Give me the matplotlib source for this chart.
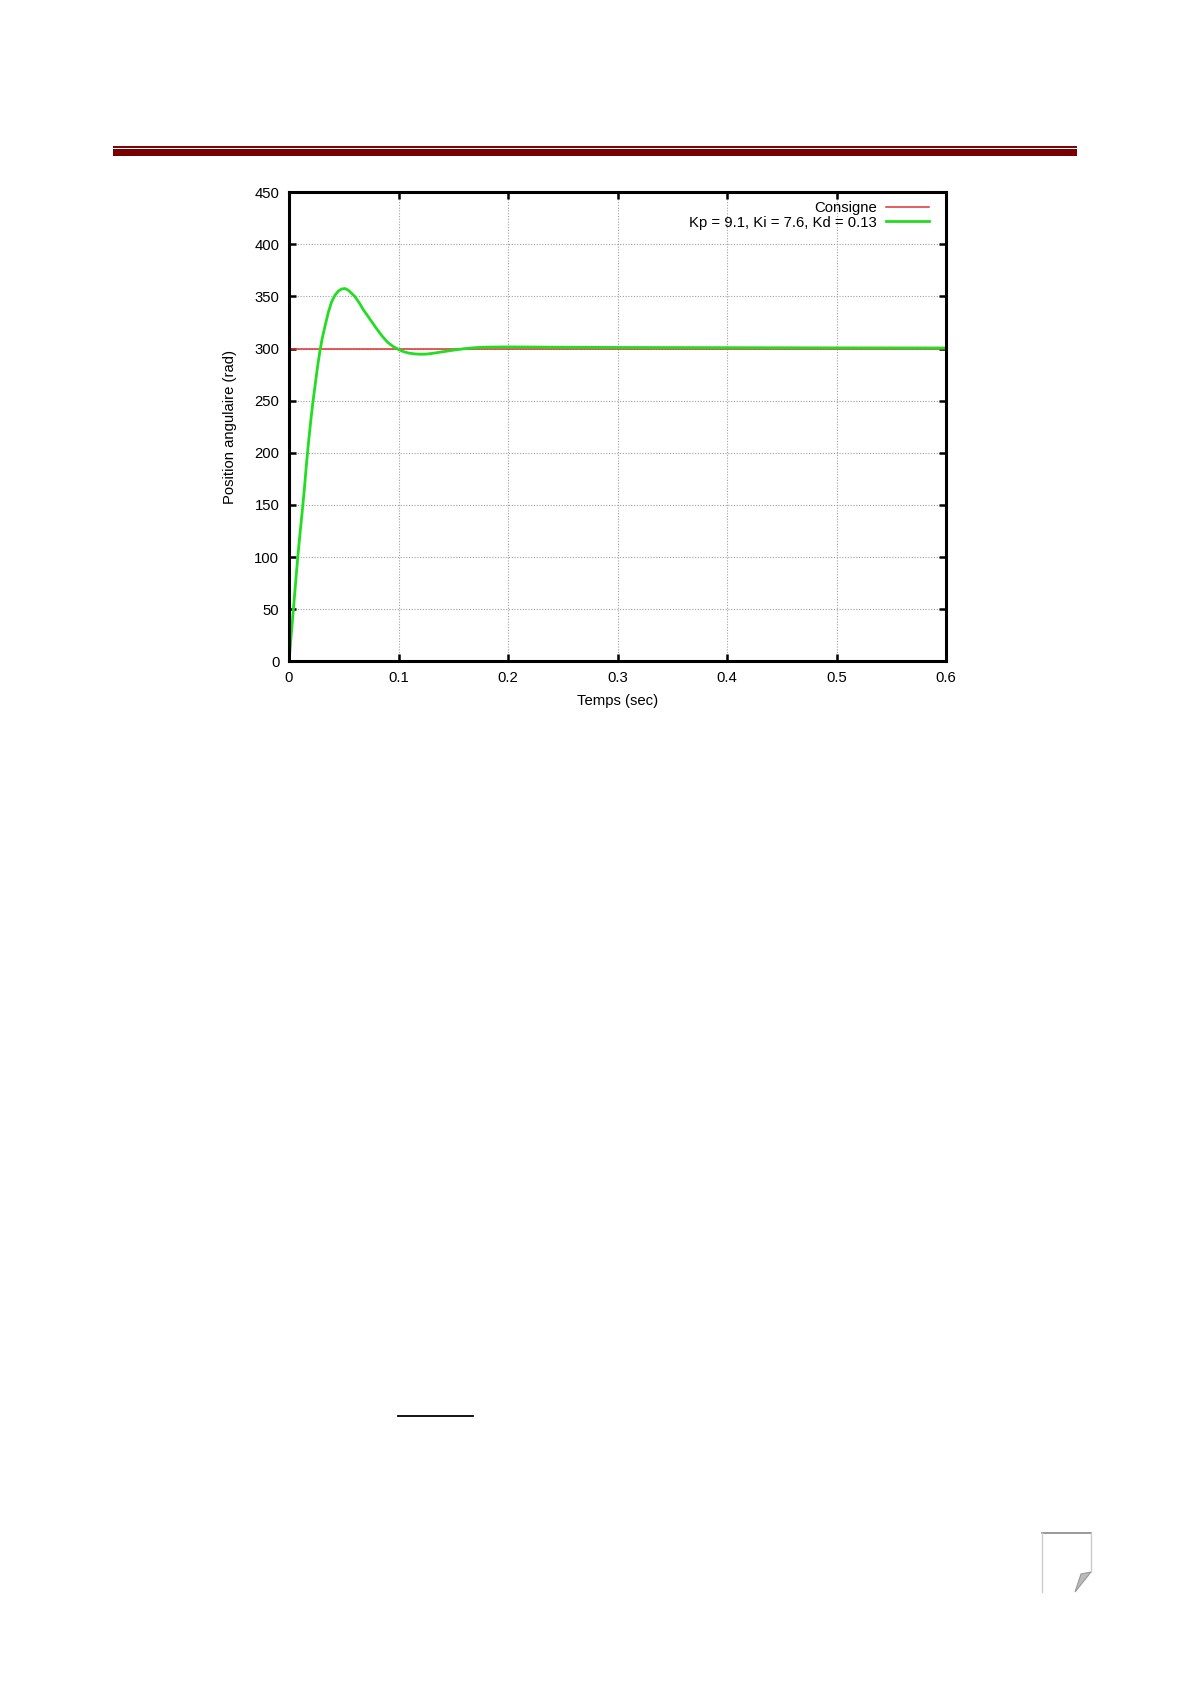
import matplotlib
matplotlib.use("Agg")
import matplotlib.pyplot as plt
from matplotlib.patches import Rectangle, Polygon
from matplotlib.lines import Line2D

plt.rcParams['font.family'] = ['Liberation Sans', 'DejaVu Sans']

# step response
temps = [0.000, 0.002, 0.004, 0.006, 0.008, 0.010, 0.012, 0.014, 0.016, 0.018,
         0.020, 0.022, 0.024, 0.026, 0.028, 0.030, 0.033, 0.036, 0.039, 0.042,
         0.045, 0.048, 0.051, 0.054, 0.057, 0.060, 0.064, 0.068, 0.072, 0.076,
         0.080, 0.085, 0.090, 0.095, 0.100, 0.105, 0.110, 0.115, 0.120, 0.125,
         0.130, 0.140, 0.150, 0.160, 0.170, 0.180, 0.200, 0.220, 0.250, 0.300,
         0.400, 0.500, 0.600]
position = [0, 25, 50, 75, 100, 122, 143, 165, 190, 212,
            232, 250, 266, 282, 296, 308, 322, 335, 345, 351,
            355, 357, 357.5, 356, 353, 350, 344, 337, 331, 325,
            319, 312, 306, 302, 299, 296.8, 295.5, 294.8, 294.5, 294.6,
            295.2, 296.8, 298.4, 299.8, 300.8, 301.3, 301.5, 301.4, 301.2, 301.0,
            300.8, 300.6, 300.5]
consigne_t = [0.0, 0.6]
consigne = [300, 300]

label_consigne = "Consigne"
label_pid = "Kp = 9.1, Ki = 7.6, Kd = 0.13"
xticks = [0, 0.1, 0.2, 0.3, 0.4, 0.5, 0.6]
xticklabels = ["0", "0.1", "0.2", "0.3", "0.4", "0.5", "0.6"]
yticks = list(range(0, 451, 50))

W, H = 1190, 1684
fig = plt.figure(figsize=(W / 100, H / 100), dpi=100)

# page decorations (header bar, short rule, page icon)
fig.add_artist(Rectangle((113 / W, 1 - 147.5 / H), (1077 - 113) / W, 1.6 / H,
                         transform=fig.transFigure, color="#7a0a0a", lw=0))
fig.add_artist(Rectangle((113 / W, 1 - 155.5 / H), (1077 - 113) / W, 6.5 / H,
                         transform=fig.transFigure, color="#780000", lw=0))
fig.add_artist(Line2D([398 / W, 473 / W], [1 - 1416 / H, 1 - 1416 / H],
                      transform=fig.transFigure, color="black", lw=1.3))
fig.add_artist(Line2D([1042 / W, 1091 / W], [1 - 1533 / H, 1 - 1533 / H],
                      transform=fig.transFigure, color="#888888", lw=1.2))
fig.add_artist(Line2D([1042 / W, 1042 / W], [1 - 1533 / H, 1 - 1592 / H],
                      transform=fig.transFigure, color="#cccccc", lw=1.0))
fig.add_artist(Line2D([1091 / W, 1091 / W], [1 - 1533 / H, 1 - 1572 / H],
                      transform=fig.transFigure, color="#cccccc", lw=1.0))
fig.add_artist(Polygon([(1075 / W, 1 - 1592 / H), (1091 / W, 1 - 1572 / H),
                        (1081 / W, 1 - 1574 / H)],
                       transform=fig.transFigure, closed=True,
                       facecolor="#bbbbbb", edgecolor="#999999", lw=0.8))

ax = fig.add_axes([289 / W, 1 - 661.5 / H, (946 - 289) / W, (661.5 - 192) / H])

ax.plot(consigne_t, consigne, color="#e03030", lw=1.1, label=label_consigne)
ax.plot(temps, position, color="#22dd22", lw=2.0, label=label_pid)

ax.set_xlim(0, 0.6)
ax.set_ylim(0, 450)
ax.set_xticks(xticks)
ax.set_xticklabels(xticklabels)
ax.set_yticks(yticks)

ax.grid(True, color="#a0a0a0", linestyle=(0, (1, 1.5)), lw=0.8)
for s in ax.spines.values():
    s.set_linewidth(2.2)
ax.tick_params(direction="in", length=5, width=1.8, top=True, right=True,
               labelsize=10.7, pad=7)

ax.set_xlabel("Temps (sec)", fontsize=10.7, labelpad=6)
ax.set_ylabel("Position angulaire (rad)", fontsize=10.7, labelpad=12.5)

ax.legend(loc="upper right", bbox_to_anchor=(1 - 8 / 657, 1), frameon=False,
          markerfirst=False, fontsize=10.7,
          handlelength=2.9, handletextpad=0.6, labelspacing=0.05,
          borderaxespad=0.3, borderpad=0.3)

fig.savefig("out.png", dpi=100)
